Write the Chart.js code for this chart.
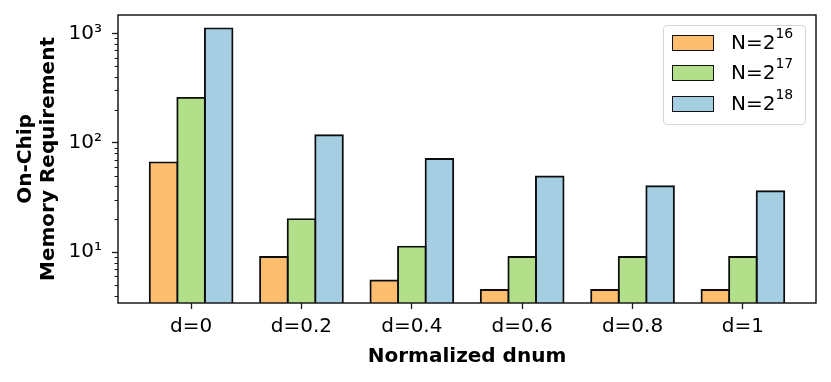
<!DOCTYPE html>
<html>
<head>
<meta charset="utf-8">
<script src="https://cdn.jsdelivr.net/npm/chart.js@4.4.1/dist/chart.umd.min.js"></script>
<style>
  html, body { margin: 0; padding: 0; background: #fff; }
  #wrap { position: relative; width: 831px; height: 382px; }
  #legend {
    position: absolute; left: 663px; top: 25px; width: 141px; height: 98px;
    border: 1px solid #d5d5d5; border-radius: 4px; background: rgba(255,255,255,0.8);
    font-family: "DejaVu Sans", sans-serif; font-size: 20px; color: #000;
  }
  .row { position: absolute; left: 8px; height: 16px; }
  .sw { position: absolute; left: 0; top: 0; width: 40px; height: 14px; border: 1.5px solid #111; }
  .lbl { position: absolute; left: 59px; top: -5px; white-space: nowrap; line-height: 24px; }
  .lbl sup { font-size: 14px; position: relative; top: -3px; vertical-align: super; line-height: 0; }
</style>
</head>
<body>
<div id="wrap">
  <canvas id="chart" width="831" height="382"></canvas>
  <div id="legend">
    <div class="row" style="top:9px"><div class="sw" style="background:#fdbf6f"></div><div class="lbl">N=2<sup>16</sup></div></div>
    <div class="row" style="top:39px"><div class="sw" style="background:#b2df8a"></div><div class="lbl">N=2<sup>17</sup></div></div>
    <div class="row" style="top:70px"><div class="sw" style="background:#a6cee3"></div><div class="lbl">N=2<sup>18</sup></div></div>
  </div>
</div>
<script>
// data
const categories = ['d=0', 'd=0.2', 'd=0.4', 'd=0.6', 'd=0.8', 'd=1'];
const n16 = [66, 9, 5.5, 4.5, 4.5, 4.5];
const n17 = [257, 20, 11.2, 9, 9, 9];
const n18 = [1110, 117, 71, 49, 40, 36];
const majorTicks = [10, 100, 1000];
const majorLabels = ['10\u00B9', '10\u00B2', '10\u00B3'];

const FONT = '"DejaVu Sans", sans-serif';

function toPoints(arr) {
    return arr.map((v, i) => ({ x: i, y: v }));
}

function isMajor(v) {
    return majorTicks.indexOf(v) !== -1;
}

// box around the plot + short minor ticks on the log axis
const framePlugin = {
    id: 'frame',
    afterDatasetsDraw(chart) {
        const { ctx, chartArea } = chart;
        const y = chart.scales.y;
        ctx.save();
        ctx.strokeStyle = '#1a1a1a';
        ctx.lineWidth = 1;
        y.ticks.forEach(t => {
            if (isMajor(t.value)) return;
            const py = Math.round(y.getPixelForValue(t.value)) + 0.5;
            ctx.beginPath();
            ctx.moveTo(chartArea.left - 3.5, py);
            ctx.lineTo(chartArea.left, py);
            ctx.stroke();
        });
        ctx.lineWidth = 1.5;
        ctx.strokeRect(chartArea.left, chartArea.top, chartArea.right - chartArea.left, chartArea.bottom - chartArea.top);
        ctx.restore();
    }
};

document.addEventListener('DOMContentLoaded', function() {
    const ctx = document.getElementById('chart').getContext('2d');
    const chart = new Chart(ctx, {
        type: 'bar',
        data: {
            datasets: [
                { label: 'N=2^16', data: toPoints(n16), backgroundColor: '#fdbf6f' },
                { label: 'N=2^17', data: toPoints(n17), backgroundColor: '#b2df8a' },
                { label: 'N=2^18', data: toPoints(n18), backgroundColor: '#a6cee3' }
            ]
        },
        options: {
            responsive: false,
            animation: false,
            devicePixelRatio: 1,
            layout: { padding: { top: 15, right: 15, left: 0, bottom: 0 } },
            datasets: {
                bar: {
                    borderColor: '#0d0d0d',
                    borderWidth: 1.9,
                    borderSkipped: 'start',
                    inflateAmount: 0.95,
                    categoryPercentage: 0.75,
                    barPercentage: 1.0
                }
            },
            plugins: {
                legend: { display: false },
                tooltip: { enabled: false }
            },
            scales: {
                x: {
                    type: 'linear',
                    offset: false,
                    min: -0.6625,
                    max: 5.6625,
                    afterBuildTicks: function(scale) {
                        scale.ticks = categories.map((c, i) => ({ value: i }));
                    },
                    afterFit: function(scale) {
                        scale.height = 79;
                        scale.paddingLeft = 0;
                        scale.paddingRight = 0;
                    },
                    ticks: {
                        autoSkip: false,
                        maxRotation: 0,
                        padding: 6,
                        color: '#000',
                        font: { family: FONT, size: 20 },
                        callback: function(v) { return categories[v]; }
                    },
                    grid: {
                        offset: false,
                        drawOnChartArea: false,
                        drawTicks: true,
                        tickLength: 6,
                        tickWidth: 1.3,
                        tickColor: '#1a1a1a'
                    },
                    border: { display: false },
                    title: {
                        display: true,
                        text: 'Normalized dnum',
                        color: '#000',
                        font: { family: FONT, size: 20, weight: 'bold', lineHeight: 1.2 },
                        padding: { top: 0, bottom: 13 }
                    }
                },
                y: {
                    type: 'logarithmic',
                    min: 3.42,
                    max: 1470,
                    afterBuildTicks: function(scale) {
                        const list = [];
                        [1, 10, 100].forEach(dec => {
                            for (let k = 1; k < 10; k++) {
                                const v = k * dec;
                                if (v >= scale.min && v <= scale.max) list.push({ value: v, major: isMajor(v) });
                            }
                        });
                        if (1000 <= scale.max) list.push({ value: 1000, major: true });
                        scale.ticks = list;
                    },
                    afterFit: function(scale) {
                        scale.width = 118;
                        scale.paddingTop = 0;
                        scale.paddingBottom = 0;
                    },
                    ticks: {
                        autoSkip: false,
                        padding: 10,
                        color: '#000',
                        font: { family: FONT, size: 20 },
                        callback: function(v) {
                            const i = majorTicks.indexOf(v);
                            return i === -1 ? '' : majorLabels[i];
                        }
                    },
                    grid: {
                        drawOnChartArea: false,
                        drawTicks: true,
                        tickLength: 6,
                        tickWidth: 1.3,
                        tickColor: function(c) {
                            return c.tick && isMajor(c.tick.value) ? '#1a1a1a' : 'rgba(0,0,0,0)';
                        }
                    },
                    border: { display: false },
                    title: {
                        display: true,
                        text: ['On-Chip', 'Memory Requirement'],
                        color: '#000',
                        font: { family: FONT, size: 20, weight: 'bold', lineHeight: 1.15 },
                        padding: { top: 14, bottom: 0 }
                    }
                }
            }
        },
        plugins: [framePlugin]
    });
});
</script>
</body>
</html>
